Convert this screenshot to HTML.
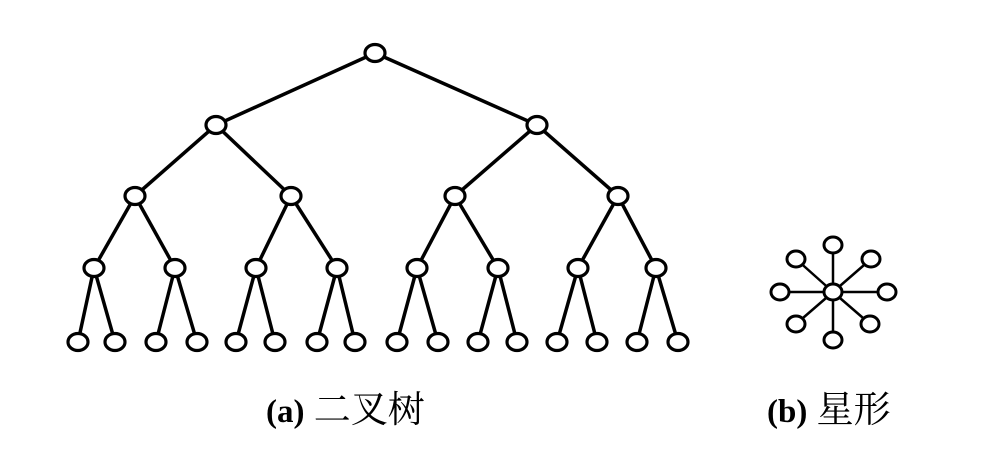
<!DOCTYPE html>
<html><head><style>body{margin:0;background:#fff}</style></head><body>
<svg width="995" height="457" xmlns="http://www.w3.org/2000/svg">
<g stroke="#000" stroke-width="3.5" fill="none">
<line x1="375" y1="53" x2="216" y2="125"/><line x1="375" y1="53" x2="537" y2="125"/>
<line x1="216" y1="125" x2="135" y2="196"/><line x1="216" y1="125" x2="291" y2="196"/>
<line x1="537" y1="125" x2="455" y2="196"/><line x1="537" y1="125" x2="618" y2="196"/>
<line x1="135" y1="196" x2="94" y2="268"/><line x1="135" y1="196" x2="175" y2="268"/>
<line x1="291" y1="196" x2="256" y2="268"/><line x1="291" y1="196" x2="337" y2="268"/>
<line x1="455" y1="196" x2="417" y2="268"/><line x1="455" y1="196" x2="498" y2="268"/>
<line x1="618" y1="196" x2="578" y2="268"/><line x1="618" y1="196" x2="656" y2="268"/>
<line x1="94" y1="268" x2="78" y2="342"/><line x1="94" y1="268" x2="115" y2="342"/>
<line x1="175" y1="268" x2="156" y2="342"/><line x1="175" y1="268" x2="197" y2="342"/>
<line x1="256" y1="268" x2="236" y2="342"/><line x1="256" y1="268" x2="275" y2="342"/>
<line x1="337" y1="268" x2="317" y2="342"/><line x1="337" y1="268" x2="355" y2="342"/>
<line x1="417" y1="268" x2="397" y2="342"/><line x1="417" y1="268" x2="438" y2="342"/>
<line x1="498" y1="268" x2="478" y2="342"/><line x1="498" y1="268" x2="517" y2="342"/>
<line x1="578" y1="268" x2="557" y2="342"/><line x1="578" y1="268" x2="597" y2="342"/>
<line x1="656" y1="268" x2="637" y2="342"/><line x1="656" y1="268" x2="678" y2="342"/>
</g>
<g stroke="#000" stroke-width="2.5">
<line x1="833" y1="292" x2="833" y2="245"/><line x1="833" y1="292" x2="833" y2="340"/>
<line x1="833" y1="292" x2="780" y2="292"/><line x1="833" y1="292" x2="887" y2="292"/>
<line x1="833" y1="292" x2="796" y2="259"/><line x1="833" y1="292" x2="871" y2="259"/>
<line x1="833" y1="292" x2="796" y2="324"/><line x1="833" y1="292" x2="870" y2="324"/>
</g>
<g stroke="#000" stroke-width="3.2" fill="#fff">
<ellipse cx="375" cy="53" rx="10" ry="8.5"/>
<ellipse cx="216" cy="125" rx="10" ry="8.5"/><ellipse cx="537" cy="125" rx="10" ry="8.5"/>
<ellipse cx="135" cy="196" rx="10" ry="8.5"/><ellipse cx="291" cy="196" rx="10" ry="8.5"/>
<ellipse cx="455" cy="196" rx="10" ry="8.5"/><ellipse cx="618" cy="196" rx="10" ry="8.5"/>
<ellipse cx="94" cy="268" rx="10" ry="8.5"/><ellipse cx="175" cy="268" rx="10" ry="8.5"/>
<ellipse cx="256" cy="268" rx="10" ry="8.5"/><ellipse cx="337" cy="268" rx="10" ry="8.5"/>
<ellipse cx="417" cy="268" rx="10" ry="8.5"/><ellipse cx="498" cy="268" rx="10" ry="8.5"/>
<ellipse cx="578" cy="268" rx="10" ry="8.5"/><ellipse cx="656" cy="268" rx="10" ry="8.5"/>
<ellipse cx="78" cy="342" rx="10" ry="8.5"/><ellipse cx="115" cy="342" rx="10" ry="8.5"/>
<ellipse cx="156" cy="342" rx="10" ry="8.5"/><ellipse cx="197" cy="342" rx="10" ry="8.5"/>
<ellipse cx="236" cy="342" rx="10" ry="8.5"/><ellipse cx="275" cy="342" rx="10" ry="8.5"/>
<ellipse cx="317" cy="342" rx="10" ry="8.5"/><ellipse cx="355" cy="342" rx="10" ry="8.5"/>
<ellipse cx="397" cy="342" rx="10" ry="8.5"/><ellipse cx="438" cy="342" rx="10" ry="8.5"/>
<ellipse cx="478" cy="342" rx="10" ry="8.5"/><ellipse cx="517" cy="342" rx="10" ry="8.5"/>
<ellipse cx="557" cy="342" rx="10" ry="8.5"/><ellipse cx="597" cy="342" rx="10" ry="8.5"/>
<ellipse cx="637" cy="342" rx="10" ry="8.5"/><ellipse cx="678" cy="342" rx="10" ry="8.5"/>
</g>
<g stroke="#000" stroke-width="3" fill="#fff">
<ellipse cx="833" cy="292" rx="9" ry="8"/>
<ellipse cx="833" cy="245" rx="9" ry="8"/><ellipse cx="833" cy="340" rx="9" ry="8"/>
<ellipse cx="780" cy="292" rx="9" ry="8"/><ellipse cx="887" cy="292" rx="9" ry="8"/>
<ellipse cx="796" cy="259" rx="9" ry="8"/><ellipse cx="871" cy="259" rx="9" ry="8"/>
<ellipse cx="796" cy="324" rx="9" ry="8"/><ellipse cx="870" cy="324" rx="9" ry="8"/>
</g>
<g font-family="'Liberation Serif','Noto Serif CJK SC',serif" font-size="33" fill="#000">
<text x="266" y="422"><tspan font-weight="bold">(a)</tspan><tspan font-size="37"> 二叉树</tspan></text>
<text x="767" y="422"><tspan font-weight="bold">(b)</tspan><tspan font-size="37"> 星形</tspan></text>
</g>
</svg>
</body></html>
